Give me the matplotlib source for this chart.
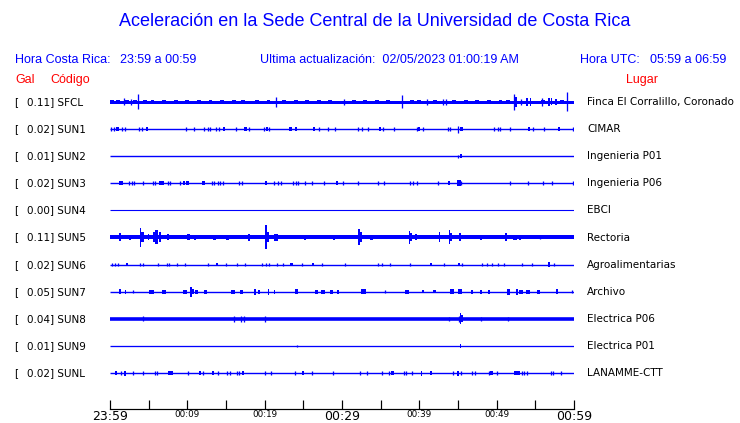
import matplotlib
matplotlib.use('Agg')
import matplotlib.pyplot as plt

# station table (top to bottom)
codes = ['SFCL', 'SUN1', 'SUN2', 'SUN3', 'SUN4', 'SUN5', 'SUN6', 'SUN7', 'SUN8', 'SUN9', 'SUNL']
gal = [0.11, 0.02, 0.01, 0.02, 0.00, 0.11, 0.02, 0.05, 0.04, 0.01, 0.02]
places = ['Finca El Corralillo, Coronado', 'CIMAR', 'Ingenieria P01', 'Ingenieria P06', 'EBCI',
          'Rectoria', 'Agroalimentarias', 'Archivo', 'Electrica P06', 'Electrica P01', 'LANAMME-CTT']
# background noise level of each trace (px)
noise = [3.0, 1.4, 1.4, 1.4, 1.1, 4.0, 1.4, 1.4, 3.6, 1.3, 1.4]

tick_minutes = [0, 5, 10, 15, 20, 25, 30, 35, 40, 45, 50, 55, 60]
tick_labels = ['23:59', '', '00:09', '', '00:19', '', '00:29', '', '00:39', '', '00:49', '', '00:59']


def ticks(times, amp=1.8):
    return [(t, amp, 0.05) for t in times]


def blobs(times, amp=1.8, dur=0.3):
    return [(t, amp, dur) for t in times]


# events: (minute, half amplitude px, duration min)
sfcl = [(1.85, 3.5, 0.1), (2.67, 3, 0.1), (3.66, 7.5, 0.1), (21.5, 5, 0.1), (30.2, 3, 0.1),
        (37.8, 6.5, 0.1), (41.0, 3, 0.1), (43.0, 3, 0.1), (43.5, 3, 0.1), (52.2, 8, 0.1),
        (52.5, 5, 0.3), (53.1, 3, 0.1), (53.9, 4, 0.2), (54.4, 4, 0.2), (55.8, 4, 0.1),
        (56.8, 4, 0.2), (57.1, 3.5, 0.2), (57.7, 3, 0.3), (59.1, 9.5, 0.1)] + \
    blobs([0.3, 1.0, 2.2, 3.2, 4.5, 5.5, 7.0, 8.5, 10.0, 11.5, 13.0, 14.5, 16.0, 17.2, 19.0,
           20.5, 22.5, 24.0, 25.5, 27.0, 28.5, 31.5, 33.0, 34.5, 36.0, 39.0, 40.0, 42.0,
           44.5, 46.0, 47.5, 49.0, 50.5, 51.5, 56.0, 58.5], 1.9, 0.5)

sun1 = ticks([0.13, 0.56, 1.59, 1.94, 3.75, 4.18, 9.78, 10.90, 12.11, 12.63, 12.97, 13.66,
              14.09, 16.25, 18.02, 19.87, 20.56, 27.07, 28.14, 29.09, 32.02, 32.63, 33.31,
              35.26, 36.76, 39.65, 40.51, 43.66, 44.00, 49.69, 50.12, 50.38, 51.76, 54.69,
              56.16, 59.9]) + \
    blobs([0.99, 4.78, 14.78, 17.54, 20.30, 23.36, 24.09, 26.38, 34.91, 40.00, 45.47,
           54.18, 58.06]) + [(44.95, 3.5, 0.05)]

sun2 = [(44.95, 1.5, 0.05), (45.39, 2.0, 0.2)]

sun3 = ticks([2.50, 2.80, 3.15, 4.22, 5.52, 5.82, 7.46, 7.76, 9.05, 13.23, 13.49, 13.92,
              14.22, 14.65, 16.72, 17.11, 21.25, 21.68, 22.11, 23.70, 24.01, 24.35, 25.21,
              26.07, 27.71, 30.17, 32.02, 34.61, 35.47, 38.79, 39.22, 39.65, 42.45, 45.38,
              51.72, 54.09, 56.03, 57.19, 59.82]) + \
    blobs([1.29, 1.59, 6.46, 6.77, 9.61, 10.04, 12.07, 20.13, 29.31, 43.87]) + \
    [(45.12, 3.0, 0.5)]

sun4 = []

sun5 = [(1.29, 4, 0.3), (2.59, 2.5, 0.3), (3.96, 9.5, 0.15), (4.2, 5, 0.3), (4.96, 3, 0.2),
        (5.8, 5, 0.4), (6.0, 7, 0.4), (6.47, 5, 0.3), (7.5, 3, 0.3), (10.1, 3, 0.4),
        (11.0, 2.5, 0.3), (13.5, 2.2, 0.3), (15.2, 2.2, 0.3), (18.0, 3.5, 0.3),
        (20.17, 12, 0.15), (20.4, 5, 0.3), (21.5, 3.5, 0.5), (25.2, 2.5, 0.2),
        (29.0, 2.2, 0.3), (32.2, 8, 0.15), (32.4, 5, 0.3), (33.8, 2.5, 0.3),
        (38.7, 6.5, 0.15), (38.9, 4, 0.3), (39.6, 3, 0.3), (42.6, 5, 0.15), (43.9, 7, 0.15),
        (44.1, 4, 0.3), (45.3, 4, 0.3), (48.0, 2.2, 0.3), (51.2, 4, 0.3), (52.4, 2.5, 0.5),
        (53.0, 2.5, 0.3), (55.6, 1.5, 0.1)]

sun6 = ticks([0.22, 0.65, 1.08, 3.88, 4.22, 6.25, 7.33, 7.63, 8.62, 9.70, 12.71, 15.00,
              16.46, 17.46, 19.61, 20.13, 20.60, 21.55, 22.33, 24.79, 27.37, 30.39, 34.69,
              35.13, 36.20, 38.79, 43.19, 45.47, 48.14, 48.78, 49.43, 50.21, 50.94, 53.23,
              54.53, 57.45]) + \
    blobs([2.24, 13.80, 23.49, 26.29, 41.50, 45.17]) + [(56.76, 2.5, 0.3)]

sun7 = [(1.29, 2.5, 0.3), (2.0, 1.8, 0.2), (3.0, 1.5, 0.1), (5.4, 2, 0.6), (7.0, 2, 0.5),
        (9.7, 2, 0.6), (10.47, 5, 0.15), (10.7, 2.5, 0.4), (11.2, 2, 0.3), (12.3, 2, 0.4),
        (15.9, 2, 0.5), (17.0, 2, 0.4), (18.75, 3, 0.3), (19.3, 2, 0.3), (20.5, 3, 0.2),
        (21.3, 1.8, 0.2), (24.1, 2.5, 0.4), (26.7, 2, 0.3), (27.5, 1.8, 0.5), (28.7, 2, 0.4),
        (29.5, 2, 0.3), (32.8, 2.5, 0.6), (35.5, 1.5, 0.1), (38.4, 2, 0.5), (40.5, 1.5, 0.3),
        (42.0, 1.5, 0.4), (44.2, 2.5, 0.5), (45.3, 2.5, 0.5), (46.8, 1.8, 0.2),
        (48.0, 1.8, 0.2), (49.0, 1.8, 0.3), (51.5, 3, 0.4), (52.6, 3, 0.3), (53.2, 1.8, 0.5),
        (54.1, 2, 0.5), (55.4, 2, 0.3), (57.8, 2.5, 0.3), (59.8, 1.5, 0.1)]

sun8 = [(4.3, 2.5, 0.1), (16.0, 3, 0.1), (17.0, 3, 0.1), (17.3, 3, 0.1), (20.0, 3, 0.1),
        (43.9, 2, 0.1), (45.1, 3, 0.1), (45.3, 5.5, 0.15), (45.5, 3.5, 0.3), (48.0, 2, 0.1),
        (51.5, 2, 0.1)]

sun9 = [(24.2, 1.0, 0.05), (45.34, 1.8, 0.2)]

sunl = ticks([1.38, 2.93, 4.22, 5.82, 6.12, 10.13, 12.07, 14.00, 15.09, 15.52, 16.46, 16.68,
              20.04, 20.78, 23.92, 26.08, 28.88, 32.33, 33.20, 35.13, 36.08, 38.05, 38.27,
              39.01, 44.31, 45.34, 46.77, 47.19, 49.00, 50.00, 53.23, 53.53, 53.88, 57.02,
              57.32, 58.28]) + \
    blobs([0.74, 7.67, 7.97, 11.64, 13.36, 17.24, 24.92, 36.55, 41.50, 49.35]) + \
    [(1.94, 2.5, 0.3), (40.30, 2.5, 0.2), (45.04, 2.5, 0.3), (52.59, 1.8, 0.8)]

events = [sfcl, sun1, sun2, sun3, sun4, sun5, sun6, sun7, sun8, sun9, sunl]

W, H = 740, 423
ROW0, DY = 102, 27.1      # pixel y of first trace and row spacing
X0, X1, YAX, YTOP = 110, 574, 409, 90
BLUE, RED = '#0000ff', '#ff0000'
PT = 0.72                 # px -> pt at 100 dpi

fig = plt.figure(figsize=(W / 100, H / 100), dpi=100)


def ftext(x, y, s, **kw):
    fig.text(x / W, 1 - y / H, s, **kw)


hdr = dict(family=['Liberation Sans', 'DejaVu Sans'], va='center')
ftext(375, 22, 'Aceleración en la Sede Central de la Universidad de Costa Rica',
      color=BLUE, fontsize=13, ha='center', **hdr)
ftext(15, 60, 'Hora Costa Rica:', color=BLUE, fontsize=9, **hdr)
ftext(120, 60, '23:59 a 00:59', color=BLUE, fontsize=9, **hdr)
ftext(260, 60, 'Ultima actualización:  02/05/2023 01:00:19 AM', color=BLUE, fontsize=9, **hdr)
ftext(580, 60, 'Hora UTC:', color=BLUE, fontsize=9, **hdr)
ftext(650, 60, '05:59 a 06:59', color=BLUE, fontsize=9, **hdr)
ftext(15, 80, 'Gal', color=RED, fontsize=9, **hdr)
ftext(50, 80, 'Código', color=RED, fontsize=9, **hdr)
ftext(626, 80, 'Lugar', color=RED, fontsize=9, **hdr)

for i in range(len(codes)):
    y = ROW0 + DY * i
    ftext(14, y, '[', fontsize=7.5, va='center', color='black')
    ftext(27, y, '%.2f] %s' % (gal[i], codes[i]), fontsize=7.5, va='center', color='black')
    ftext(587, y, places[i], fontsize=7.5, va='center', color='black')

ax = fig.add_axes([X0 / W, 1 - YAX / H, (X1 - X0) / W, (YAX - YTOP) / H])
ax.set_xlim(0, 60)
ax.set_ylim((YAX - ROW0) / DY, (YTOP - ROW0) / DY)
ax.patch.set_alpha(0)

for i, ev in enumerate(events):
    ax.hlines(i, 0, 60, color=BLUE, lw=noise[i] * PT)
    for t, a, d in ev:
        a = a / DY
        if d <= 0.1:
            ax.vlines(t, i - a, i + a, color=BLUE, lw=1.3 * PT)
        else:
            ax.bar(t, 2 * a, bottom=i - a, width=d, color=BLUE, lw=0)

for s in ['top', 'left', 'right']:
    ax.spines[s].set_visible(False)
ax.spines['bottom'].set_linewidth(1.2 * PT)
ax.set_yticks([])
ax.set_xticks(tick_minutes)
ax.set_xticklabels(tick_labels)
ax.tick_params(axis='x', direction='in', length=9 * PT, width=1.2 * PT, pad=0.5)
for lab in ax.get_xticklabels():
    if lab.get_text() in ('23:59', '00:29', '00:59'):
        lab.set_fontsize(9)
    else:
        lab.set_fontsize(6.3)

fig.savefig('out.png', dpi=100)
